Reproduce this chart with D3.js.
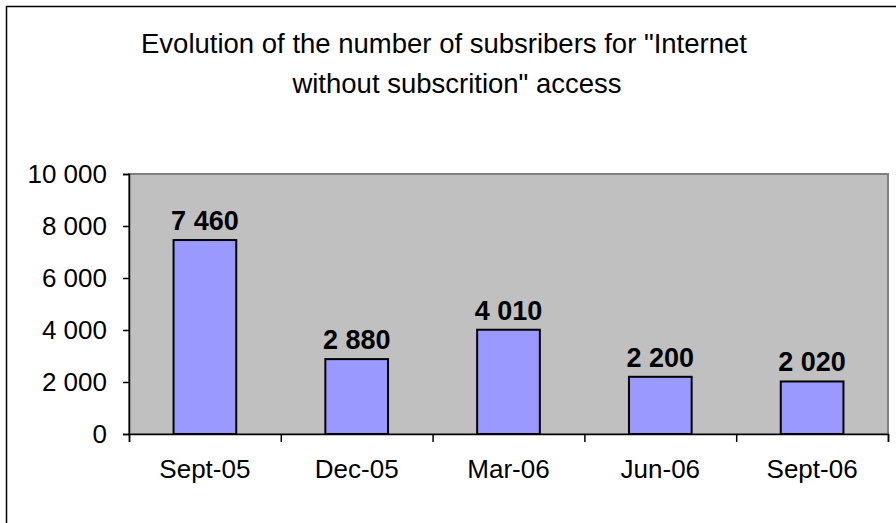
<!DOCTYPE html>
<html>
<head>
<meta charset="utf-8">
<script src="https://cdn.jsdelivr.net/npm/d3@7.9.0/dist/d3.min.js"></script>
<style>
  body { margin: 0; background: #fff; }
  svg { display: block; font-family: "Liberation Sans", Arial, sans-serif; }
</style>
</head>
<body>
<div id="chart"></div>
<script>
const categories = ["Sept-05", "Dec-05", "Mar-06", "Jun-06", "Sept-06"];
const subscribers = [7460, 2880, 4010, 2200, 2020];
const yTicks = [0, 2000, 4000, 6000, 8000, 10000];
const titleLines = ["Evolution of the number of subsribers for \"Internet", "without subscrition\" access"];

const data = categories.map((c, i) => ({ cat: c, value: subscribers[i] }));

const W = 896, H = 523;
const plot = { left: 129, top: 174, right: 888, bottom: 434 };

const svg = d3.select("#chart")
    .append("svg")
    .attr("width", W)
    .attr("height", H);

// outer chart border (cropped on right/bottom)
svg.append("rect")
    .attr("x", 6.5)
    .attr("y", 6.5)
    .attr("width", W + 20)
    .attr("height", H + 20)
    .attr("fill", "#fff")
    .attr("stroke", "#000")
    .attr("stroke-width", 1.5);

// title
svg.selectAll(".title")
    .data(titleLines)
    .join("text")
    .attr("class", "title")
    .attr("x", (d, i) => i === 0 ? 444 : 457)
    .attr("y", (d, i) => 53 + i * 40)
    .attr("text-anchor", "middle")
    .attr("font-size", "27.5px")
    .attr("fill", "#000")
    .text(d => d);

// scales
const x = d3.scaleBand()
    .domain(categories)
    .range([plot.left, plot.right])
    .paddingInner(0.587)
    .paddingOuter(0.2935);

const y = d3.scaleLinear()
    .domain([0, 10000])
    .range([plot.bottom, plot.top]);

// plot area
svg.append("rect")
    .attr("x", plot.left)
    .attr("y", plot.top)
    .attr("width", plot.right - plot.left)
    .attr("height", plot.bottom - plot.top)
    .attr("fill", "#c0c0c0")
    .attr("stroke", "#808080")
    .attr("stroke-width", 2);

// bars
svg.selectAll(".bar")
    .data(data)
    .join("rect")
    .attr("class", "bar")
    .attr("x", d => x(d.cat))
    .attr("y", d => y(d.value))
    .attr("width", x.bandwidth())
    .attr("height", d => y(0) - y(d.value))
    .attr("fill", "#9999ff")
    .attr("stroke", "#000")
    .attr("stroke-width", 2);

const fmt = v => d3.format(",")(v).replace(/,/g, " ");

// value labels
svg.selectAll(".val")
    .data(data)
    .join("text")
    .attr("class", "val")
    .attr("x", d => x(d.cat) + x.bandwidth() / 2)
    .attr("y", d => y(d.value) - 10)
    .attr("text-anchor", "middle")
    .attr("font-size", "27px")
    .attr("font-weight", "bold")
    .text(d => fmt(d.value));

// y axis
const yAxis = svg.append("g")
    .attr("transform", `translate(${plot.left},0)`)
    .call(d3.axisLeft(y).tickValues(yTicks).tickSize(6).tickPadding(16).tickFormat(fmt));
yAxis.select(".domain").attr("stroke", "#000").attr("stroke-width", 1.5);
yAxis.selectAll(".tick line").attr("stroke", "#000").attr("stroke-width", 1.5);
yAxis.selectAll(".tick text")
    .attr("font-size", "26px")
    .attr("font-family", "Liberation Sans, Arial, sans-serif")
    .attr("fill", "#000");

// x axis: ticks at category boundaries
const xBoundary = d3.scaleLinear()
    .domain([0, categories.length])
    .range([plot.left, plot.right]);
const xAxis = svg.append("g")
    .attr("transform", `translate(0,${plot.bottom})`)
    .call(d3.axisBottom(xBoundary).tickValues(d3.range(categories.length + 1)).tickSize(8).tickFormat(""));
xAxis.select(".domain").attr("stroke", "#000").attr("stroke-width", 1.5);
xAxis.selectAll(".tick line").attr("stroke", "#000").attr("stroke-width", 1.5);

svg.selectAll(".cat")
    .data(categories)
    .join("text")
    .attr("class", "cat")
    .attr("x", d => x(d) + x.bandwidth() / 2)
    .attr("y", plot.bottom + 44)
    .attr("text-anchor", "middle")
    .attr("font-size", "26px")
    .text(d => d);
</script>
</body>
</html>
